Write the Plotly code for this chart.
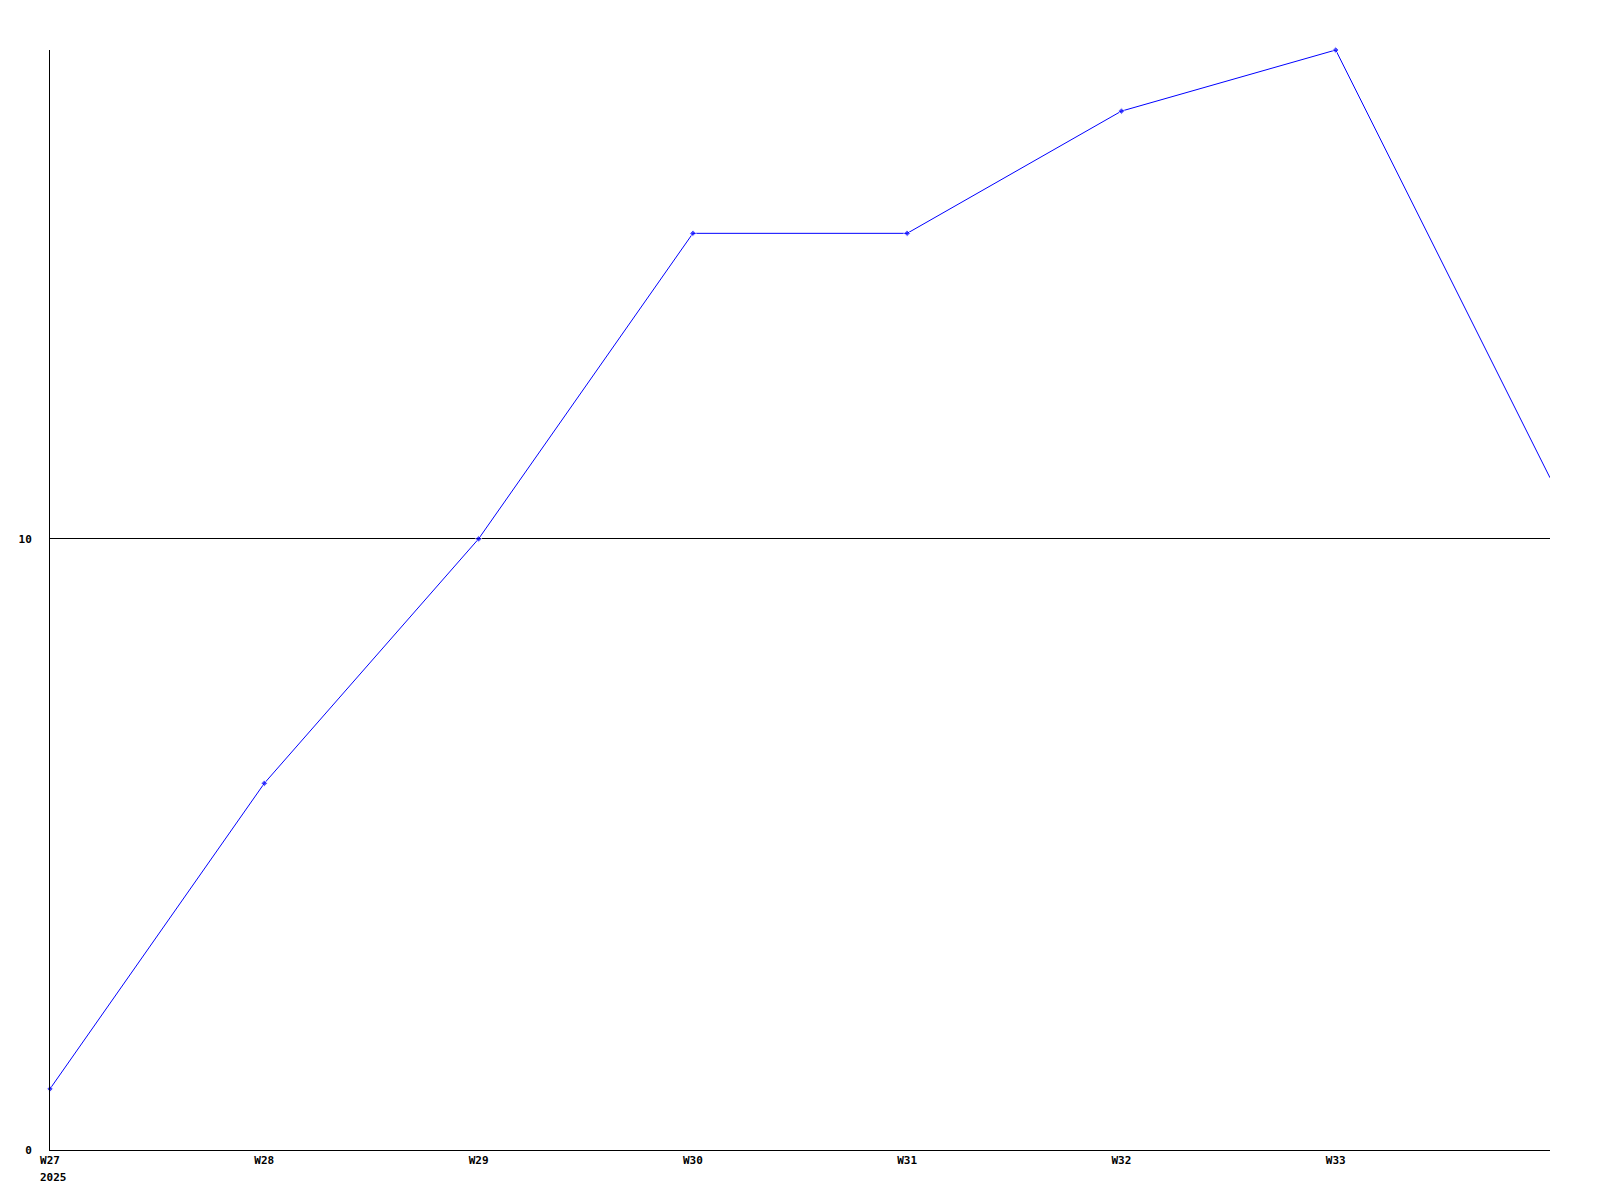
import plotly.graph_objects as go

weeks = ["W27", "W28", "W29", "W30", "W31", "W32", "W33", "W34"]
values = [1, 6, 10, 15, 15, 17, 18, 11]
y_ticks = [0, 10]
year_label = "2025"

x_idx = list(range(len(weeks)))
marker_sizes = [5] * (len(weeks) - 1) + [0]

fig = go.Figure()
fig.add_trace(go.Scatter(
    x=x_idx, y=values, mode="lines+markers",
    line=dict(color="#0000ff", width=1),
    marker=dict(color="#0000ff", size=marker_sizes, symbol="diamond"),
    showlegend=False, cliponaxis=False,
))

font = dict(family="DejaVu Sans Mono", size=11, color="#000000")
fig.update_layout(
    width=1600, height=1200,
    margin=dict(l=42, r=58, t=42, b=58),
    paper_bgcolor="#ffffff", plot_bgcolor="#ffffff",
    font=font,
    xaxis=dict(
        range=[0, len(weeks) - 1],
        tickvals=x_idx[:-1], ticktext=[f"<b>{w}</b>" for w in weeks[:-1]],
        showgrid=False, zeroline=False, showline=True, linecolor="#000000", linewidth=1,
        ticks="", ticklen=0,
    ),
    yaxis=dict(
        range=[0, 18],
        tickvals=y_ticks, ticktext=[f"<b>{t}</b>" for t in y_ticks],
        showgrid=True, gridcolor="#000000", gridwidth=1,
        zeroline=False, showline=True, linecolor="#000000", linewidth=1,
        ticks="", ticklen=0, ticklabelstandoff=15,
    ),
)
fig.add_annotation(
    x=0, y=0, xref="x", yref="y", text=f"<b>{year_label}</b>",
    showarrow=False, xanchor="left", yanchor="top", xshift=-12, yshift=-19,
    font=font,
)
fig.write_html("out.html")
